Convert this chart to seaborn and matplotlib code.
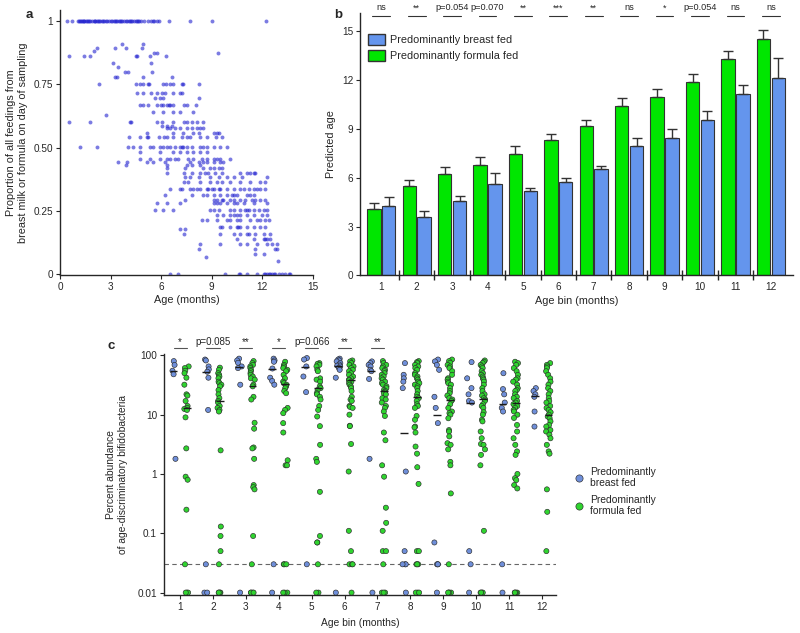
import numpy as np
import pandas as pd
import matplotlib
matplotlib.use('Agg')
import matplotlib.pyplot as plt
import seaborn as sns
from matplotlib.lines import Line2D
from matplotlib.patches import Patch
from matplotlib.ticker import NullLocator
import matplotlib.transforms as mtransforms

sns.set_style('ticks')
plt.rcParams['font.family'] = ['Liberation Sans', 'DejaVu Sans']
plt.rcParams['axes.linewidth'] = 1.0

# ---------------- Panel a data: proportion level -> ages (months) ----------------
a_levels = [1.0, 0.91, 0.892, 0.88, 0.872, 0.86, 0.835, 0.82, 0.80, 0.78, 0.751, 0.717,
            0.697, 0.668, 0.64, 0.628, 0.602, 0.585, 0.576, 0.556, 0.543, 0.503, 0.484,
            0.456, 0.444, 0.43, 0.418, 0.40, 0.385, 0.365, 0.336, 0.312, 0.292, 0.28,
            0.253, 0.233, 0.213, 0.187, 0.18, 0.16, 0.14, 0.12, 0.10, 0.08, 0.068, 0.05, 0.0]
a_ages = [
    [0.40, 0.69, 1.09, 1.15, 1.2, 1.25, 1.3, 1.35, 1.4, 1.45, 1.55, 1.6, 1.65, 1.75, 1.8, 1.9,
     2.0, 2.05, 2.1, 2.2, 2.25, 2.3, 2.4, 2.5, 2.55, 2.6, 2.7, 2.8, 2.9, 3.0, 3.1, 3.2, 3.25,
     3.3, 3.4, 3.5, 3.55, 3.6, 3.7, 3.8, 3.9, 4.0, 4.1, 4.15, 4.2, 4.3, 4.4, 4.5, 4.55, 4.6,
     4.7, 4.8, 5.0, 5.2, 5.4, 5.5, 5.6, 5.75, 5.85, 6.44, 7.72, 9.0, 12.24],
    [3.66, 4.91],
    [2.18, 3.27, 3.92, 4.85],
    [2.04],
    [5.58, 5.74, 9.35],
    [0.55, 1.43, 1.78, 4.51, 4.59, 5.35, 6.28],
    [3.13, 5.41],
    [3.43],
    [3.86, 4.06, 5.45],
    [3.29, 3.41, 4.93, 6.67],
    [2.34, 4.51, 4.75, 4.91, 5.25, 5.29, 6.14, 6.30, 6.53, 6.73, 7.23, 7.29, 8.26],
    [4.55, 4.91, 5.39, 5.74, 6.04, 6.24, 6.73, 7.13, 7.23],
    [5.66, 5.94, 6.14, 8.26],
    [4.75, 4.95, 5.25, 5.74, 5.98, 6.14, 6.34, 6.44, 6.53, 6.69, 7.33, 7.52, 8.06],
    [5.54, 6.14, 6.73, 7.13, 7.92],
    [2.73],
    [0.55, 1.78, 4.16, 4.22, 5.74, 6.04, 6.73, 7.33, 7.52, 7.82, 8.12, 8.51],
    [6.04, 6.34, 6.63],
    [6.34, 6.53, 6.83, 7.13, 7.52, 7.82, 8.12, 8.32, 8.51],
    [5.15, 6.73, 7.29, 7.92, 8.22, 9.11, 9.31, 9.41],
    [4.12, 4.75, 5.15, 5.25, 5.90, 6.18, 6.34, 6.73, 7.23, 7.52, 7.72, 8.32, 8.71, 9.27, 9.60],
    [1.19, 2.22, 4.06, 4.36, 4.75, 5.35, 5.54, 5.94, 6.14, 6.34, 6.53, 6.83, 7.13, 7.23, 7.29,
     7.52, 7.82, 8.32, 8.51, 8.71, 9.11, 9.50, 9.90],
    [4.75, 5.94, 6.73, 7.13, 7.52, 7.92, 8.32, 8.71],
    [4.75, 5.35, 5.94, 6.34, 6.53, 6.83, 7.03, 7.62, 7.92, 8.42, 8.71, 9.11, 9.31, 9.50, 10.10],
    [3.47, 3.96, 5.15, 5.54, 6.24, 7.72, 8.22, 8.51, 8.71, 9.11, 9.50, 9.70],
    [3.92, 6.34, 7.52, 7.82, 8.32],
    [6.34, 7.43, 8.51, 8.91, 9.11, 9.41, 9.60],
    [6.34, 7.33, 7.82, 8.32, 8.61, 8.81, 9.21, 9.60, 10.69, 11.09, 11.29, 11.49, 11.58],
    [7.43, 7.72, 8.22, 8.91, 9.41, 9.90, 10.30, 10.79, 12.28],
    [7.33, 7.62, 8.32, 8.91, 9.31, 9.60, 10.10, 10.69, 11.29, 11.88, 12.18],
    [6.53, 7.13, 7.23, 7.72, 7.92, 8.12, 8.32, 8.71, 8.81, 9.01, 9.11, 9.41, 9.50, 9.90,
     10.30, 10.69, 10.89, 11.19, 11.49, 11.68, 11.88, 12.18],
    [6.24, 7.82, 8.51, 8.71, 9.11, 9.50, 9.90, 10.20, 10.30, 10.50, 11.09, 11.29, 11.49],
    [7.39, 9.11, 9.31, 9.60, 9.70, 10.10, 10.30, 10.69, 10.99, 11.39, 11.58, 11.88, 12.18],
    [5.74, 6.34, 7.13, 9.11, 9.31, 9.50, 9.90, 10.30, 10.50, 10.89, 11.49, 12.28],
    [5.64, 6.14, 6.69, 8.91, 9.11, 9.41, 10.10, 10.30, 10.69, 10.99, 11.09, 11.19, 11.49,
     11.78, 12.08, 12.28],
    [9.31, 9.70, 10.10, 10.30, 10.50, 10.69, 11.09, 11.49, 11.98, 12.28],
    [8.42, 8.71, 9.31, 9.90, 10.10, 10.50, 10.69, 11.29, 11.68, 11.88, 12.18, 12.38],
    [9.50, 9.60, 10.10, 10.50, 10.59, 10.69, 11.09, 11.49, 11.88, 12.18],
    [7.13, 7.43],
    [7.33, 9.50, 10.30, 10.69, 11.09, 11.19, 11.58, 12.08, 12.48],
    [10.50, 11.49, 12.08, 12.18, 12.28, 12.48],
    [8.32, 9.50, 10.69, 11.09, 11.68, 12.28, 12.57, 12.87],
    [8.22, 11.58, 12.77, 12.87],
    [11.58, 12.08],
    [8.65],
    [12.91],
    [6.53, 7.03, 9.80, 10.65, 10.69, 11.09, 11.68, 12.08, 12.18, 12.28, 12.38, 12.48, 12.57,
     12.67, 12.77, 12.97, 13.17, 13.37, 13.56, 13.66],
]

# ---------------- Panel b data ----------------
b_bins = ['1', '2', '3', '4', '5', '6', '7', '8', '9', '10', '11', '12']
b_formula = [4.06, 5.47, 6.2, 6.78, 7.48, 8.3, 9.16, 10.39, 10.98, 11.88, 13.3, 14.5]
b_formula_err = [0.41, 0.37, 0.46, 0.52, 0.49, 0.41, 0.41, 0.53, 0.49, 0.52, 0.51, 0.6]
b_breast = [4.28, 3.6, 4.59, 5.6, 5.2, 5.76, 6.52, 7.93, 8.42, 9.53, 11.17, 12.15]
b_breast_err = [0.56, 0.37, 0.31, 0.69, 0.15, 0.24, 0.22, 0.51, 0.55, 0.59, 0.55, 1.23]
b_sig = ['ns', '**', 'p=0.054', 'p=0.070', '**', '***', '**', 'ns', '*', 'p=0.054', 'ns', 'ns']
b_yticks = [0, 3, 6, 9, 12, 15]

# ---------------- Panel c data ----------------
c_bins = ['1', '2', '3', '4', '5', '6', '7', '8', '9', '10', '11', '12']
c_breast = [
    [80, 69, 55, 48, 1.8],
    [85, 82, 65, 58, 53, 42, 12, 0.03, 0.01, 0.01],
    [88, 82, 75, 65, 61, 32, 0.01],
    [88, 82, 78, 60, 42, 37, 32, 0.03, 0.01],
    [90, 85, 65, 44, 24, 0.03],
    [88, 85, 82, 79, 74, 70, 67, 65, 61, 57, 42, 0.01],
    [79, 74, 69, 65, 57, 54, 40, 1.8, 0.01],
    [74, 47, 41, 36, 28, 1.1, 0.05, 0.03, 0.03, 0.03, 0.01],
    [85, 79, 69, 57, 20, 13, 7.2, 0.07, 0.03, 0.03, 0.03, 0.01],
    [77, 41, 28, 22, 17, 16, 0.05, 0.03, 0.01],
    [50, 27, 22, 16, 13, 11.3, 0.03, 0.01],
    [28, 25, 22, 20, 11.3, 6.3],
]
c_formula = [
    [65, 61, 55, 50, 42, 32, 22, 21, 17, 14, 13, 12.5, 12, 9, 2.7, 0.9, 0.8, 0.25, 0.03,
     0.01, 0.01, 0.01],
    [62, 57, 50, 47, 44, 41, 36, 34, 32, 30, 26, 22, 19, 17, 16, 14, 13, 12, 11.3, 2.5,
     0.13, 0.09, 0.05, 0.03, 0.01, 0.01, 0.01, 0.01],
    [80, 74, 69, 65, 61, 57, 54, 50, 47, 44, 41, 39, 32, 30, 20, 18, 7.3, 5.8, 2.8, 2.7,
     1.8, 0.65, 0.6, 0.55, 0.09, 0.03, 0.01, 0.01, 0.01, 0.01],
    [78, 69, 65, 61, 57, 54, 47, 41, 36, 34, 32, 30, 28, 25, 23, 13, 12, 10.6, 7.2, 5,
     1.7, 1.4, 1.4, 0.03, 0.03, 0.03, 0.01, 0.01, 0.01],
    [74, 72, 69, 65, 57, 54, 41, 39, 36, 30, 28, 26, 23, 22, 20, 18, 14, 12, 9.3, 6.4,
     3.1, 1.8, 1.6, 0.5, 0.09, 0.07, 0.07, 0.03, 0.01, 0.01],
    [82, 79, 74, 69, 65, 61, 57, 54, 50, 47, 44, 41, 39, 38, 36, 34, 32, 30, 28, 25, 20,
     18, 17, 14, 13.5, 13, 10, 6.5, 6.4, 3.2, 1.1, 0.11, 0.05, 0.03, 0.03, 0.03, 0.01],
    [80, 74, 69, 65, 61, 57, 54, 50, 47, 44, 41, 39, 36, 34, 32, 30, 28, 26, 25, 24, 23,
     22, 19, 18, 16, 14, 13, 11.3, 9.5, 5, 3.7, 1.4, 0.9, 0.27, 0.15, 0.11, 0.05, 0.05,
     0.03, 0.01, 0.01, 0.01],
    [80, 77, 74, 69, 65, 61, 57, 50, 47, 44, 41, 39, 36, 34, 32, 30, 28, 25, 22, 20, 19,
     17, 15, 14, 13, 9.5, 8.2, 6.3, 6.1, 5, 2.9, 2.2, 1.3, 0.68, 0.05, 0.05, 0.03, 0.03,
     0.03, 0.01, 0.01, 0.01],
    [85, 80, 75, 69, 65, 61, 54, 47, 41, 39, 36, 34, 32, 28, 25, 23, 21, 19, 18, 17, 15,
     13, 11.3, 10.6, 10, 8.7, 5.5, 5.2, 4.3, 3.3, 3.1, 2.6, 1.6, 1.4, 0.47, 0.03, 0.01,
     0.01, 0.01, 0.01],
    [82, 78, 74, 69, 65, 61, 54, 50, 47, 44, 41, 39, 36, 32, 28, 25, 22, 21, 19, 18, 17,
     15, 14, 13, 11, 10, 8.2, 7.7, 5.2, 4, 3.2, 3.1, 2.6, 2.1, 1.4, 0.11, 0.01, 0.01,
     0.01, 0.01],
    [78, 74, 69, 61, 54, 47, 41, 39, 36, 32, 28, 26, 25, 22, 20, 19, 17, 16, 15, 14, 13,
     12, 11.3, 10, 8.8, 6.7, 5.2, 4, 3.1, 2.4, 2.1, 1.0, 0.85, 0.79, 0.65, 0.57, 0.01,
     0.01, 0.01, 0.01],
    [74, 69, 65, 61, 54, 47, 41, 36, 32, 28, 25, 22, 19, 17, 16, 14, 13, 12, 11, 10, 9.3,
     8.7, 7.7, 6.7, 6.3, 5.5, 5.2, 4.6, 4.0, 3.1, 2.4, 2.2, 0.55, 0.23, 0.05],
]
c_med_breast = [55, 52, 63, 60, 63, 65, 54, 4.9, 10, 16, 15, 21]
c_med_formula = [13, 17, 31, 33, 28, 39, 25, 20, 18, 18.5, 16, 9.7]
c_sig = ['*', 'p=0.085', '**', '*', 'p=0.066', '**', '**']
c_yticks = [0.01, 0.1, 1, 10, 100]
c_yticklabels = ['0.01', '0.1', '1', '10', '100']

BREAST = 'Predominantly breast fed'
FORMULA = 'Predominantly formula fed'

# ---------------- Figure ----------------
fig = plt.figure(figsize=(8, 6.33), dpi=100)
ax_a = fig.add_axes([0.075, 0.565, 0.316, 0.419])
ax_b = fig.add_axes([0.45, 0.565, 0.541, 0.414])
ax_c = fig.add_axes([0.205, 0.060, 0.4905, 0.381])

LBL = 7.8
TCK = 7.2

# ---- Panel a ----
a_x, a_y = [], []
for lev, ages in zip(a_levels, a_ages):
    a_x.extend(ages)
    a_y.extend([lev] * len(ages))
df_a = pd.DataFrame({'age': a_x, 'prop': a_y})
sns.scatterplot(data=df_a, x='age', y='prop', ax=ax_a, s=8, color='#2424d0',
                alpha=0.6, linewidth=0, legend=False)
ax_a.set_xlim(0, 15)
ax_a.set_ylim(-0.005, 1.043)
ax_a.set_xticks([0, 3, 6, 9, 12, 15])
ax_a.set_yticks([0, 0.25, 0.5, 0.75, 1])
ax_a.set_yticklabels(['0', '0.25', '0.50', '0.75', '1'])
ax_a.set_xlabel('Age (months)', fontsize=LBL, labelpad=2)
ax_a.set_ylabel('Proportion of all feedings from\nbreast milk or formula on day of sampling',
                fontsize=LBL, labelpad=4)
sns.despine(ax=ax_a)
ax_a.tick_params(labelsize=TCK, length=3, width=0.8, pad=2)

# ---- Panel b ----
df_b = pd.DataFrame({
    'bin': b_bins + b_bins,
    'group': [FORMULA] * 12 + [BREAST] * 12,
    'value': b_formula + b_breast,
})
sns.barplot(data=df_b, x='bin', y='value', hue='group', order=b_bins,
            hue_order=[FORMULA, BREAST], palette={FORMULA: '#00e600', BREAST: '#6495ed'},
            saturation=1, errorbar=None, width=0.84, gap=0.1, edgecolor='#333333',
            linewidth=0.8, ax=ax_b, legend=False)
for cont, errs in zip(ax_b.containers, [b_formula_err, b_breast_err]):
    for patch, e in zip(cont.patches, errs):
        xc = patch.get_x() + patch.get_width() / 2
        h = patch.get_height()
        ax_b.errorbar([xc], [h], yerr=[[0], [e]], fmt='none', ecolor='#333333',
                      elinewidth=1.0, capsize=3.5, capthick=1.0, zorder=1)
ax_b.set_xlim(-0.6, 11.62)
ax_b.set_ylim(0, 16.1)
ax_b.set_yticks(b_yticks)
ax_b.set_xlabel('Age bin (months)', fontsize=LBL, labelpad=3)
ax_b.set_ylabel('Predicted age', fontsize=LBL, labelpad=4)
sns.despine(ax=ax_b)
ax_b.tick_params(axis='y', labelsize=TCK, length=3, width=0.8, pad=2)
ax_b.tick_params(axis='x', which='major', labelsize=TCK, length=0, pad=5)
ax_b.set_xticks(np.arange(len(b_bins) - 1) + 0.5, minor=True)
ax_b.tick_params(axis='x', which='minor', direction='inout', length=7, width=1.0)
for i, s in enumerate(b_sig):
    ax_b.plot([i - 0.25, i + 0.25], [15.95, 15.95], color='#333333', lw=0.8, clip_on=False)
    ax_b.text(i, 16.15, s, ha='center', va='bottom', fontsize=6.6, clip_on=False)
ax_b.legend(handles=[Patch(facecolor='#6495ed', edgecolor='#333333', label=BREAST),
                     Patch(facecolor='#00e600', edgecolor='#333333', label=FORMULA)],
            loc='upper left', bbox_to_anchor=(0.0, 0.95), frameon=False, fontsize=7.8,
            handlelength=1.6, handleheight=1.2, handletextpad=0.5, labelspacing=0.4,
            borderaxespad=0.3)

# ---- Panel c ----
rows = []
for i, b in enumerate(c_bins):
    for v in c_breast[i]:
        rows.append((b, BREAST, v))
    for v in c_formula[i]:
        rows.append((b, FORMULA, v))
df_c = pd.DataFrame(rows, columns=['bin', 'group', 'value'])
np.random.seed(3)
c_pal = {BREAST: '#6f8fda', FORMULA: '#2fd42f'}
sns.stripplot(data=df_c, x='bin', y='value', hue='group', order=c_bins,
              hue_order=[BREAST, FORMULA], palette=c_pal, dodge=True, jitter=0.15,
              size=3.7, edgecolor='#2b2b2b', linewidth=0.45, log_scale=True,
              legend=False, ax=ax_c, zorder=3)
xs = np.arange(len(c_bins))
ax_c.hlines(c_med_breast, xs - 0.2 - 0.12, xs - 0.2 + 0.12, color='#1a1a1a', lw=1.0, zorder=5)
ax_c.hlines(c_med_formula, xs + 0.2 - 0.12, xs + 0.2 + 0.12, color='#1a1a1a', lw=1.0, zorder=5)
ax_c.axhline(0.03, color='#666666', lw=0.8, ls=(0, (4, 3)), zorder=1)
ax_c.set_xlim(-0.49, 11.44)
ax_c.set_ylim(0.0091, 106)
ax_c.set_yticks(c_yticks)
ax_c.set_yticklabels(c_yticklabels)
ax_c.yaxis.set_minor_locator(NullLocator())
ax_c.set_xlabel('Age bin (months)', fontsize=7.4, labelpad=4)
ax_c.set_ylabel('Percent abundance\nof age-discriminatory bifidobacteria', fontsize=7.4,
                labelpad=7)
sns.despine(ax=ax_c)
ax_c.tick_params(labelsize=TCK, length=3, width=0.8, pad=2)
trans = mtransforms.blended_transform_factory(ax_c.transData, ax_c.transAxes)
for i, s in enumerate(c_sig):
    ax_c.plot([i - 0.2, i + 0.2], [1.024, 1.024], color='#555555', lw=0.8,
              transform=trans, clip_on=False)
    ax_c.text(i, 1.03, s, ha='center', va='bottom', fontsize=7.0, transform=trans,
              clip_on=False)
ax_c.legend(handles=[Line2D([], [], marker='o', ls='none', markersize=5.2,
                            markerfacecolor=c_pal[BREAST], markeredgecolor='#2b2b2b',
                            markeredgewidth=0.45, label='Predominantly\nbreast fed'),
                     Line2D([], [], marker='o', ls='none', markersize=5.2,
                            markerfacecolor=c_pal[FORMULA], markeredgecolor='#2b2b2b',
                            markeredgewidth=0.45, label='Predominantly\nformula fed')],
            loc='upper left', bbox_to_anchor=(1.02, 0.57), frameon=False, fontsize=7.4,
            handletextpad=0.6, labelspacing=0.6, handlelength=1.0)

# panel letters
fig.text(0.032, 0.977, 'a', fontsize=9.5, fontweight='bold', va='center')
fig.text(0.418, 0.977, 'b', fontsize=9.5, fontweight='bold', va='center')
fig.text(0.135, 0.453, 'c', fontsize=9.5, fontweight='bold', va='center')

fig.savefig('out.png', dpi=100)
